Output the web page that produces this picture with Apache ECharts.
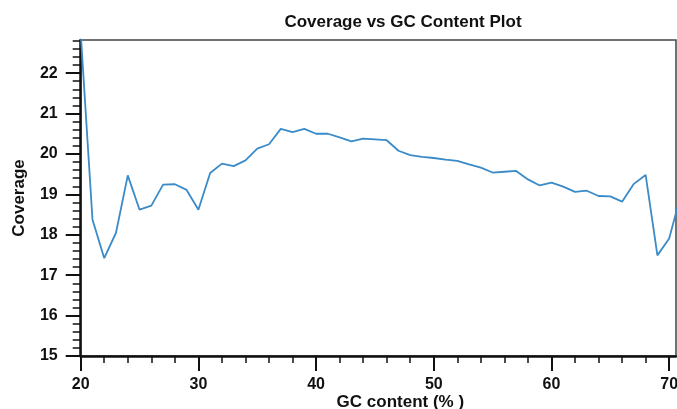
<!DOCTYPE html>
<html>
<head>
<meta charset="utf-8">
<script src="https://cdn.jsdelivr.net/npm/echarts@6/dist/echarts.min.js"></script>
<style>html,body{margin:0;padding:0;background:#fff}#c{width:677px;height:409px}</style>
</head>
<body>
<div id="c"></div>
<script>
const gcContent = [20,21,22,23,24,25,26,27,28,29,30,31,32,33,34,35,36,37,38,39,40,41,42,43,44,45,46,47,48,49,50,51,52,53,54,55,56,57,58,59,60,61,62,63,64,65,66,67,68,69,70,71];
const coverage = [23.0,18.38,17.42,18.05,19.47,18.62,18.72,19.24,19.25,19.11,18.62,19.53,19.76,19.70,19.84,20.13,20.24,20.62,20.54,20.62,20.50,20.50,20.41,20.31,20.38,20.36,20.34,20.08,19.97,19.93,19.90,19.86,19.83,19.74,19.66,19.54,19.56,19.58,19.37,19.22,19.29,19.19,19.06,19.09,18.96,18.95,18.82,19.26,19.48,17.49,17.91,19.0];
const xMajorTicks = [20,30,40,50,60,70];
const xMinorTicks = [20,22,24,26,28,30,32,34,36,38,40,42,44,46,48,50,52,54,56,58,60,62,64,66,68,70];
const yMajorTicks = [15,16,17,18,19,20,21,22];
const yMinorTicks = [];
for (let v = 15; v <= 22.81; v += 0.2) yMinorTicks.push(Math.round(v * 10) / 10);

const X_MIN = 20, X_MAX = 70.58, Y_MIN = 15, Y_MAX = 22.82;
const FONT = 'Liberation Sans, Arial, sans-serif';

const chart = echarts.init(document.getElementById('c'), null, {renderer: 'canvas'});
const labelStyle = {fontFamily: FONT, fontSize: 16, fontWeight: 'bold', color: '#111'};
chart.setOption({
  animation: false,
  title: {
    text: 'Coverage vs GC Content Plot',
    left: 398, top: 9, textAlign: 'center',
    textStyle: {fontFamily: FONT, fontSize: 17, fontWeight: 'bold', color: '#111'}
  },
  grid: {left: 80.7, right: 1, top: 40, bottom: 53, outerBoundsMode: 'none', containLabel: false,
         show: true, borderColor: '#444', borderWidth: 1.5, backgroundColor: 'transparent'},
  xAxis: [{
    type: 'value', min: X_MIN, max: X_MAX, interval: 10,
    name: 'GC content (% )', nameLocation: 'middle', nameGap: 37.5, nameMoveOverlap: false,
    nameTextStyle: {fontFamily: FONT, fontSize: 17, fontWeight: 'bold', color: '#111', padding: [0, 0, 0, 44]},
    axisLine: {show: true, onZero: false, lineStyle: {color: '#111', width: 2.5}},
    axisTick: {show: true, length: 15, customValues: xMajorTicks, lineStyle: {color: '#111', width: 2}},
    axisLabel: {margin: 21, customValues: xMajorTicks, ...labelStyle},
    splitLine: {show: false}
  }, {
    type: 'value', min: X_MIN, max: X_MAX, position: 'bottom',
    axisLine: {show: false, onZero: false},
    axisTick: {show: true, length: 7, customValues: xMinorTicks, lineStyle: {color: '#111', width: 1.5}},
    axisLabel: {show: false},
    splitLine: {show: false}
  }],
  yAxis: [{
    type: 'value', min: Y_MIN, max: Y_MAX, interval: 1,
    name: 'Coverage', nameLocation: 'middle', nameGap: 53, nameMoveOverlap: false,
    nameTextStyle: {fontFamily: FONT, fontSize: 17, fontWeight: 'bold', color: '#111'},
    axisLine: {show: true, onZero: false, lineStyle: {color: '#111', width: 2.5}},
    axisTick: {show: true, length: 15, customValues: yMajorTicks, lineStyle: {color: '#111', width: 2}},
    axisLabel: {margin: 23, customValues: yMajorTicks, ...labelStyle},
    splitLine: {show: false}
  }, {
    type: 'value', min: Y_MIN, max: Y_MAX, position: 'left',
    axisLine: {show: false, onZero: false},
    axisTick: {show: true, length: 8, customValues: yMinorTicks, lineStyle: {color: '#111', width: 1.5}},
    axisLabel: {show: false},
    splitLine: {show: false}
  }],
  series: [{
    type: 'line',
    xAxisIndex: 0, yAxisIndex: 0,
    data: gcContent.map((x, i) => [x, coverage[i]]),
    showSymbol: false, symbol: 'none',
    lineStyle: {color: '#3a8bc8', width: 1.8},
    clip: true
  }]
});
</script>
</body>
</html>
